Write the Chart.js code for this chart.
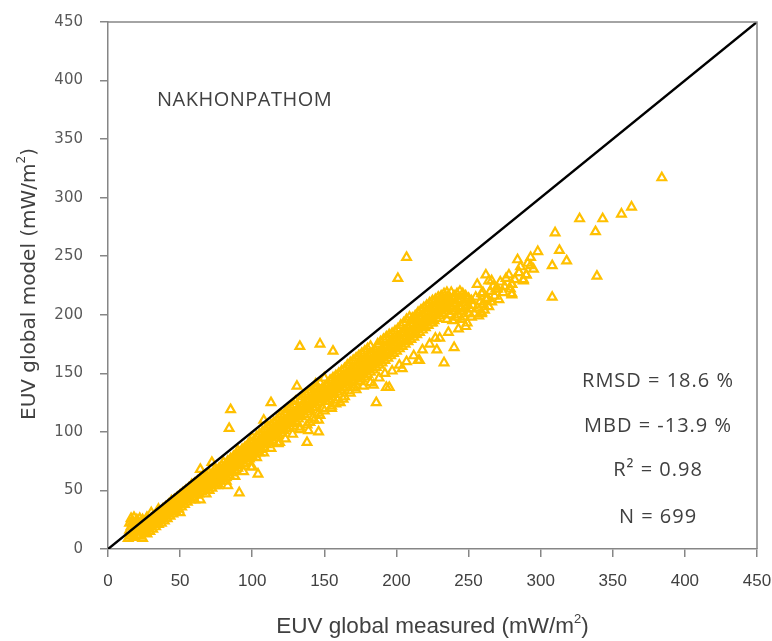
<!DOCTYPE html>
<html><head><meta charset="utf-8">
<script src="https://cdn.jsdelivr.net/npm/chart.js@4.4.1/dist/chart.umd.min.js"></script>
<style>html,body{margin:0;padding:0;background:#fff}canvas{display:block}</style>
</head><body>
<canvas id="c" width="772" height="641"></canvas>
<script>
// ---- data (measured, model) ----
const bandLow = [[14,9],[15,16],[15,22],[16,11],[16,19],[16,26],[17,14],[17,23],[18,10],[18,18],[18,27],[19,15],[19,21],[20,12],[20,19],[20,25],[21,16],[21,23],[22,11],[22,20],[22,26],[23,15],[23,22],[24,9],[24,18],[24,25],[25,14],[25,21],[26,17],[26,24],[27,13],[27,20],[27,27],[28,18],[28,24],[29,15],[29,22],[30,19],[30,26],[30,31],[31,17],[31,24],[32,21],[32,28],[33,19],[33,26],[34,23],[34,30],[35,21],[35,27],[35,34],[36,25],[36,31],[37,22],[37,29],[38,27],[38,34],[39,24],[39,31],[40,28],[40,36],[41,26],[41,33],[42,30],[42,38],[43,28],[43,35],[44,33],[44,41],[45,30],[45,37],[46,34],[46,42],[47,32],[47,39],[48,36],[48,44],[49,34],[49,41],[50,38],[50,46],[51,42],[51,36],[52,40],[52,48],[53,38],[53,45],[54,42],[54,50],[55,40],[55,47],[56,44],[56,52],[57,42],[57,49],[58,46],[58,55],[59,44],[59,51],[60,42],[60,48],[60,56],[20,18],[22,17],[24,15],[26,22],[28,20],[30,23],[32,26],[34,24],[36,28],[38,30],[40,31],[42,34],[44,36],[46,38],[48,40],[50,42],[52,44],[54,46],[56,48],[58,50]];
const bandMidLow = [[61,46],[61,53],[62,50],[62,58],[63,47],[63,55],[64,42],[64,52],[64,60],[65,49],[65,57],[66,54],[66,62],[67,51],[67,58],[68,47],[68,55],[68,63],[69,53],[69,60],[70,50],[70,57],[70,65],[71,55],[71,62],[72,52],[72,59],[73,57],[73,64],[74,54],[74,61],[74,68],[75,59],[75,66],[76,56],[76,63],[77,61],[77,69],[78,58],[78,65],[79,63],[79,71],[80,60],[80,67],[80,74],[81,64],[81,71],[82,61],[82,69],[83,66],[83,75],[84,63],[84,71],[85,68],[85,77],[86,65],[86,73],[87,70],[87,79],[88,67],[88,75],[89,72],[89,80],[90,69],[90,77],[90,84],[91,74],[91,82],[92,71],[92,79],[93,76],[93,85],[94,73],[94,81],[95,78],[95,87],[96,75],[96,83],[97,80],[97,89],[98,77],[98,85],[99,82],[99,91],[100,79],[100,87],[100,95],[66,58],[70,61],[74,64],[78,68],[82,72],[86,76],[90,80],[94,84],[98,88]];
const bandMid = [[101,84],[101,92],[102,81],[102,89],[103,86],[103,96],[104,83],[104,91],[105,82],[105,88],[105,98],[106,85],[106,93],[107,90],[107,100],[108,87],[108,95],[109,92],[109,102],[110,89],[110,97],[111,94],[111,104],[112,91],[112,99],[113,96],[113,106],[114,93],[114,101],[115,98],[115,108],[116,95],[116,103],[117,100],[117,110],[118,97],[118,105],[119,91],[119,102],[119,112],[120,99],[120,107],[120,115],[121,104],[121,112],[122,101],[122,109],[123,106],[123,117],[124,103],[124,111],[125,108],[125,119],[126,105],[126,113],[127,110],[127,121],[128,107],[128,115],[129,112],[129,123],[130,109],[130,117],[130,126],[131,114],[132,111],[132,120],[133,104],[133,116],[133,127],[134,113],[134,122],[135,118],[135,130],[136,115],[136,124],[137,120],[137,132],[138,117],[138,126],[139,122],[139,134],[140,108],[140,119],[140,128],[141,124],[141,136],[142,112],[142,121],[142,130],[143,126],[143,138],[144,123],[144,132],[145,128],[145,139],[146,116],[146,125],[146,134],[147,130],[147,142],[148,127],[148,136],[149,120],[149,132],[150,129],[150,138],[150,146],[110,93],[115,101],[120,104],[125,112],[130,114],[135,122],[140,124],[145,131],[104,89],[108,92],[112,96],[116,100]];
const bandMidHigh = [[151,126],[151,135],[152,131],[152,141],[153,128],[153,137],[154,133],[154,144],[155,122],[155,130],[155,139],[156,135],[156,146],[157,132],[157,141],[158,137],[158,148],[159,127],[159,134],[159,143],[160,139],[160,150],[161,125],[161,136],[161,145],[162,141],[162,152],[163,138],[163,147],[164,130],[164,143],[164,154],[165,140],[165,149],[166,145],[166,157],[167,135],[167,142],[167,151],[168,147],[168,159],[169,144],[169,153],[170,138],[170,149],[170,161],[171,146],[171,155],[172,140],[172,151],[172,163],[173,148],[173,157],[174,143],[174,153],[174,165],[175,150],[175,159],[176,145],[176,155],[176,167],[177,152],[177,161],[178,147],[178,157],[178,169],[179,154],[179,163],[180,149],[180,159],[180,171],[181,156],[181,165],[182,151],[182,161],[182,173],[183,158],[183,167],[184,140],[184,153],[184,163],[185,160],[185,170],[186,155],[186,165],[187,162],[187,175],[188,157],[188,168],[189,164],[189,177],[190,159],[190,170],[191,166],[191,179],[192,161],[192,172],[193,168],[193,181],[194,163],[194,174],[195,170],[195,183],[196,165],[196,176],[197,172],[197,184],[198,167],[198,178],[199,174],[199,186],[200,169],[200,180],[155,134],[160,143],[165,146],[170,152],[175,155],[180,162],[185,165],[190,167],[195,176]];
const bandHigh = [[201,176],[201,188],[202,171],[202,182],[203,178],[203,191],[204,154],[204,173],[204,185],[205,180],[205,193],[206,175],[206,187],[207,182],[207,196],[208,177],[208,189],[209,184],[209,198],[210,179],[210,191],[211,186],[211,197],[212,181],[212,193],[213,188],[213,199],[214,183],[214,195],[215,190],[215,202],[216,161],[216,185],[216,197],[217,192],[217,204],[218,187],[218,199],[219,194],[219,206],[220,189],[220,201],[221,196],[221,208],[222,191],[222,203],[223,198],[223,210],[224,193],[224,205],[225,200],[225,212],[226,195],[226,207],[227,202],[227,213],[228,197],[228,209],[229,204],[229,215],[230,199],[230,211],[231,206],[231,216],[232,201],[232,213],[233,208],[233,218],[234,203],[234,214],[235,196],[235,210],[235,219],[236,205],[236,216],[237,200],[237,212],[238,207],[238,219],[239,195],[239,214],[240,203],[240,216],[241,198],[241,210],[242,205],[242,218],[243,200],[243,212],[244,207],[244,220],[245,196],[245,213],[246,203],[246,218],[247,198],[247,210],[248,205],[248,216],[249,193],[249,208],[250,201],[250,214],[205,184],[210,185],[215,192],[220,196],[225,193],[230,205],[235,205],[240,209],[245,206]];
const bandLowerEdge = [[70,50],[76,54],[82,58],[88,62],[94,66],[99,70],[103,78],[108,82],[113,86],[118,90],[123,94],[128,98],[133,102],[138,106],[143,110],[147,114],[150,118],[155,120],[158,124],[163,128],[168,133],[172,136],[177,139],[182,142],[188,146],[192,150],[197,152],[202,157],[207,160],[212,165],[218,170],[223,175],[230,180],[236,185],[243,188],[248,190]];
const bandTop = [[251,205],[252,198],[252,212],[253,208],[254,201],[255,215],[256,206],[256,226],[257,199],[258,211],[259,202],[259,218],[260,209],[260,219],[261,204],[262,234],[262,213],[263,214],[264,207],[264,229],[265,220],[266,211],[267,224],[268,216],[269,222],[270,222],[271,213],[272,228],[274,219],[275,224],[276,231],[278,234],[279,222],[280,226],[280,218],[282,230],[284,247],[285,236],[286,241],[288,230],[290,234],[291,244],[293,249],[293,242],[295,239],[298,254]];
const outliersAbove = [[207,249],[201,231],[147,175],[133,173],[156,169],[131,139],[144,141],[113,125],[108,110],[85,119],[84,103],[72,74],[64,68]];
const outliersBelow = [[138,91],[146,100],[146,110],[139,101],[186,125],[193,138],[195,138],[233,159],[215,161],[240,172],[228,170],[227,180],[91,48],[83,54],[100,70],[104,64],[50,31]];
const outliersHigh = [[384,317],[363,292],[356,286],[343,282],[327,282],[338,271],[310,270],[313,255],[318,246],[308,242],[339,233],[308,215],[285,236],[290,234],[288,229],[280,226],[280,217],[270,222],[266,229],[263,214],[260,209],[259,201]];
const oneToOne = [[0,0],[450,450]];
const axisMin = 0, axisMax = 450, axisStep = 50;
const siteName = 'NAKHONPATHOM';
const statsLines = ['RMSD = 18.6 %', 'MBD = -13.9 %', 'R\u00B2 = 0.98', 'N = 699'];
const xTitle = ['EUV global measured (mW/m', '2', ')'];
const yTitle = ['EUV global model (mW/m', '2', ')'];

const allPoints = [].concat(bandLow, bandMidLow, bandMid, bandMidHigh, bandHigh, bandLowerEdge, bandTop, outliersAbove, outliersBelow, outliersHigh)
  .map(p => ({x: p[0], y: p[1]}));

function drawSupText(ctx, parts, cx, cy, font, supFont, supRise) {
  ctx.font = font; const w1 = ctx.measureText(parts[0]).width; const w3 = ctx.measureText(parts[2]).width;
  ctx.font = supFont; const w2 = ctx.measureText(parts[1]).width;
  let x = cx - (w1 + w2 + w3) / 2;
  ctx.textAlign = 'left'; ctx.textBaseline = 'middle';
  ctx.font = font; ctx.fillText(parts[0], x, cy); x += w1;
  ctx.font = supFont; ctx.fillText(parts[1], x, cy - supRise); x += w2;
  ctx.font = font; ctx.fillText(parts[2], x, cy);
}

const decor = {
  id: 'decor',
  afterDraw(chart) {
    const {ctx, chartArea: a} = chart;
    ctx.save();
    ctx.strokeStyle = '#868686'; ctx.lineWidth = 1.5;
    ctx.beginPath(); ctx.moveTo(a.left, a.top); ctx.lineTo(a.right, a.top); ctx.lineTo(a.right, a.bottom); ctx.stroke();
    ctx.fillStyle = '#404040';
    // x title
    drawSupText(ctx, xTitle, (a.left + a.right) / 2, 627, '22.5px "Liberation Sans"', '13px "Liberation Sans"', 8);
    // y title
    ctx.save(); ctx.translate(30, 284); ctx.rotate(-Math.PI / 2);
    drawSupText(ctx, yTitle, 0, 0, '20px "DejaVu Sans"', '12px "DejaVu Sans"', 8);
    ctx.restore();
    // site name
    ctx.letterSpacing = '0.5px';
    ctx.font = '20px "Open Sans"'; ctx.textAlign = 'left'; ctx.textBaseline = 'middle';
    ctx.fillText(siteName, 157, 100);
    // stats
    ctx.letterSpacing = '1px';
    ctx.textAlign = 'center';
    const ys = [381, 426, 470, 517];
    statsLines.forEach((t, i) => ctx.fillText(t, 658, ys[i]));
    ctx.restore();
  }
};

new Chart(document.getElementById('c'), {
  type: 'scatter',
  data: {
    datasets: [
      { data: oneToOne.map(p => ({x: p[0], y: p[1]})), showLine: true, borderColor: '#000', borderWidth: 2.5, pointRadius: 0, order: 0 },
      { data: allPoints, pointStyle: 'triangle', pointRadius: 5, borderWidth: 2.2, borderColor: '#FFC000', backgroundColor: 'rgba(255,255,255,0)', order: 1 }
    ]
  },
  options: {
    responsive: false, animation: false, devicePixelRatio: 1,
    layout: { autoPadding: false, padding: { left: 0, right: 15, top: 22, bottom: 0 } },
    plugins: { legend: { display: false }, tooltip: { enabled: false } },
    scales: {
      x: {
        type: 'linear', min: axisMin, max: axisMax,
        ticks: { stepSize: axisStep, autoSkip: false, maxRotation: 0, padding: 14, color: '#404040', font: { family: '"Liberation Sans Narrow", "Liberation Sans", sans-serif', size: 17 } },
        grid: { drawOnChartArea: false, drawTicks: true, tickLength: 8, color: '#868686', lineWidth: 1.5 },
        border: { display: true, color: '#868686', width: 1.5 },
        afterFit(s) { s.height = 92; s.paddingLeft = 0; s.paddingRight = 0; }
      },
      y: {
        type: 'linear', min: axisMin, max: axisMax,
        ticks: { stepSize: axisStep, autoSkip: false, padding: 17, color: '#595959', font: { family: '"DejaVu Sans", sans-serif', size: 15 } },
        grid: { drawOnChartArea: false, drawTicks: true, tickLength: 8, color: '#868686', lineWidth: 1.5 },
        border: { display: true, color: '#868686', width: 1.5 },
        afterFit(s) { s.width = 108; s.paddingTop = 0; s.paddingBottom = 0; }
      }
    }
  },
  plugins: [decor]
});
</script>
</body></html>
